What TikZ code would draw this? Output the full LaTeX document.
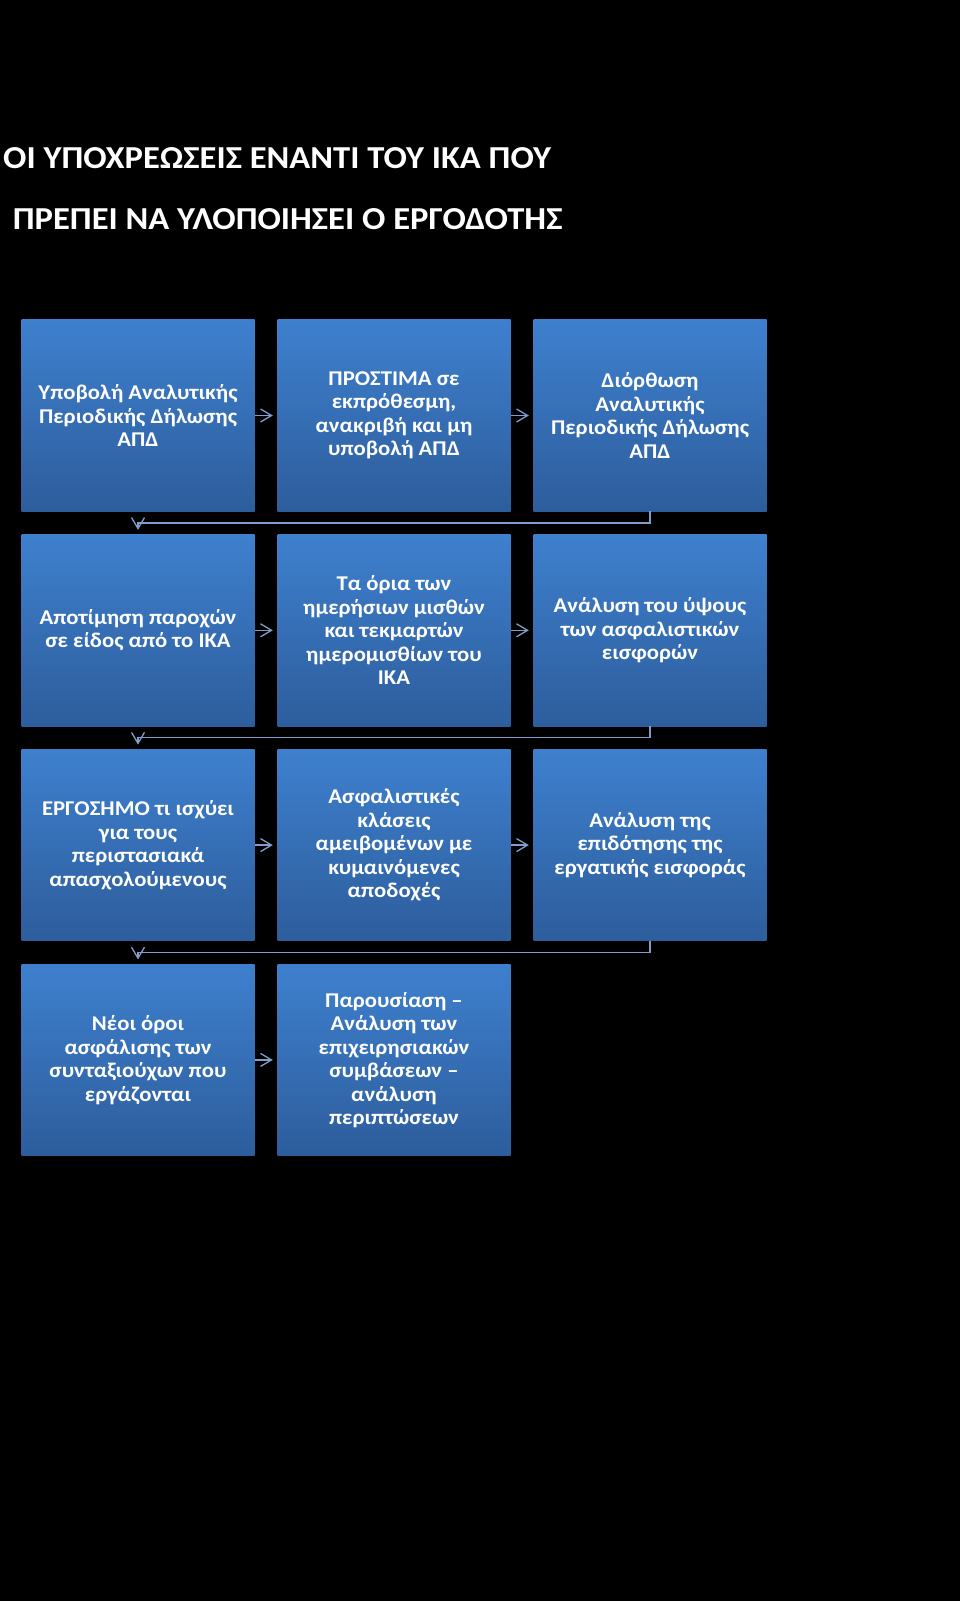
\documentclass[tikz,border=0pt]{standalone}
\usepackage{fontspec}
\setmainfont{Carlito}[FakeStretch=1.08]
\usetikzlibrary{arrows.meta}
\definecolor{boxtop}{RGB}{62,128,206}
\definecolor{boxbot}{RGB}{45,93,156}
\definecolor{linkc}{RGB}{128,158,204}
\tikzset{
  box/.style={minimum width=233pt,minimum height=191.5pt,inner sep=0pt,
    top color=boxtop,bottom color=boxbot,text=white,align=center,
    font=\bfseries\fontsize{21}{23.5}\selectfont},
  head/.style={anchor=base west,inner sep=0pt,text=white,
    font=\bfseries\fontsize{32}{32}\selectfont},
  link/.style={draw=linkc,line width=1.3pt,
    arrows={-Straight Barb[length=11pt,width=13pt]},shorten >=4.5pt}
}
\begin{document}
\begin{tikzpicture}[x=1pt,y=-1pt]
      \fill[black](0,0) rectangle (960,1601);
      \useasboundingbox (0,0) rectangle (960,1601);

      \node[head] (t1) at (3,168.3) {ΟΙ ΥΠΟΧΡΕΩΣΕΙΣ ΕΝΑΝΤΙ ΤΟΥ ΙΚΑ ΠΟΥ};
      \node[head] (t2) at (12.7,229.3) {ΠΡΕΠΕΙ ΝΑ ΥΛΟΠΟΙΗΣΕΙ Ο ΕΡΓΟΔΟΤΗΣ};

      \node[box] (b1) at (138,415.5) {Υποβολή Αναλυτικής\\Περιοδικής Δήλωσης\\ΑΠΔ};
      \node[box] (b2) at (394,415.5) {ΠΡΟΣΤΙΜΑ σε\\εκπρόθεσμη,\\ανακριβή και μη\\υποβολή ΑΠΔ};
      \node[box] (b3) at (650,415.5) {Διόρθωση\\Αναλυτικής\\Περιοδικής Δήλωσης\\ΑΠΔ};
      \node[box] (b4) at (138,630.3) {Αποτίμηση παροχών\\σε είδος από το ΙΚΑ};
      \node[box] (b5) at (394,630.3) {Τα όρια των\\ημερήσιων μισθών\\και τεκμαρτών\\ημερομισθίων του\\ΙΚΑ};
      \node[box] (b6) at (650,630.3) {Ανάλυση του ύψους\\των ασφαλιστικών\\εισφορών};
      \node[box] (b7) at (138,845.1) {ΕΡΓΟΣΗΜΟ τι ισχύει\\για τους\\περιστασιακά\\απασχολούμενους};
      \node[box] (b8) at (394,845.1) {Ασφαλιστικές\\κλάσεις\\αμειβομένων με\\κυμαινόμενες\\αποδοχές};
      \node[box] (b9) at (650,845.1) {Ανάλυση της\\επιδότησης της\\εργατικής εισφοράς};
      \node[box] (b10) at (138,1059.9) {Νέοι όροι\\ασφάλισης των\\συνταξιούχων που\\εργάζονται};
      \node[box] (b11) at (394,1059.9) {Παρουσίαση –\\Ανάλυση των\\επιχειρησιακών\\συμβάσεων –\\ανάλυση\\περιπτώσεων};

      \draw[link] (b1.east) -- (b2.west);%1-2
      \draw[link] (b2.east) -- (b3.west);%2-3
      \draw[link] (b3.south) -- ++(0,11.5) -| (b4.north);%3-4
      \draw[link] (b4.east) -- (b5.west);%4-5
      \draw[link] (b5.east) -- (b6.west);%5-6
      \draw[link] (b6.south) -- ++(0,11.5) -| (b7.north);%6-7
      \draw[link] (b7.east) -- (b8.west);%7-8
      \draw[link] (b8.east) -- (b9.west);%8-9
      \draw[link] (b9.south) -- ++(0,11.5) -| (b10.north);%9-10
      \draw[link] (b10.east) -- (b11.west);%10-11
\end{tikzpicture}
\end{document}
